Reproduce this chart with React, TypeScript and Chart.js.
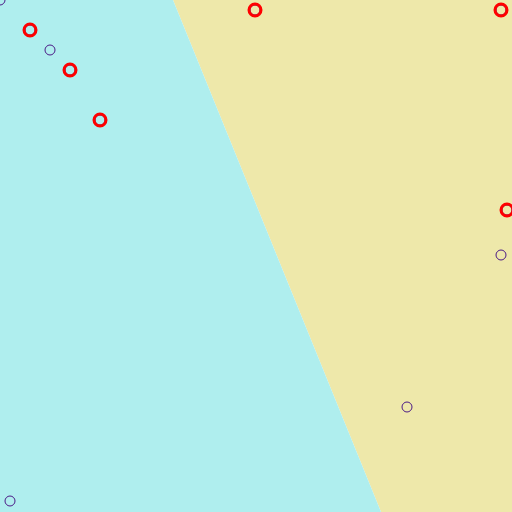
import React, { useEffect, useRef } from "react";
import { Chart, registerables } from "chart.js";

Chart.register(...registerables);

// Data points (x, y) in plot units (y grows downward)
const pointsX = [0, 30, 50, 70, 100, 255, 501, 507, 501, 407, 10];
const pointsY = [0, 30, 50, 70, 120, 10, 10, 210, 255, 407, 501];

// Support vectors
const svX = [30, 70, 100, 255, 501, 507];
const svY = [30, 70, 120, 10, 10, 210];

// Decision regions (polygons)
const leftRegionX = [0, 173, 381, 0];
const leftRegionY = [0, 0, 512, 512];
const rightRegionX = [173, 512, 512, 381];
const rightRegionY = [0, 0, 512, 512];

const zip = (xs: number[], ys: number[]) => xs.map((x, i) => ({ x, y: ys[i] }));

export default function App() {
  const ref = useRef<HTMLCanvasElement | null>(null);
  useEffect(() => {
    document.body.style.margin = "0";
    if (!ref.current) return;
    const chart = new Chart(ref.current, {
      type: "scatter",
      data: {
        datasets: [
          {
            data: zip(svX, svY),
            pointRadius: 6,
            pointBorderWidth: 3,
            pointBorderColor: "#ff0000",
            pointBackgroundColor: "rgba(0,0,0,0)",
            showLine: false,
            order: 0,
          },
          {
            data: zip(pointsX, pointsY),
            pointRadius: 5,
            pointBorderWidth: 1,
            pointBorderColor: "#4b1a86",
            pointBackgroundColor: "rgba(0,0,0,0)",
            showLine: false,
            order: 1,
          },
          {
            data: zip(leftRegionX, leftRegionY),
            showLine: true,
            fill: "shape",
            backgroundColor: "#afeeee",
            borderWidth: 0,
            borderColor: "rgba(0,0,0,0)",
            pointRadius: 0,
            order: 2,
          } as any,
          {
            data: zip(rightRegionX, rightRegionY),
            showLine: true,
            fill: "shape",
            backgroundColor: "#eee8aa",
            borderWidth: 0,
            borderColor: "rgba(0,0,0,0)",
            pointRadius: 0,
            order: 3,
          } as any,
        ],
      },
      options: {
        animation: false,
        responsive: false,
        layout: { padding: 0, autoPadding: false },
        plugins: { legend: { display: false }, tooltip: { enabled: false } },
        scales: {
          x: { type: "linear", min: 0, max: 512, display: false },
          y: { type: "linear", min: 0, max: 512, reverse: true, display: false },
        },
      },
    });
    return () => chart.destroy();
  }, []);
  return <canvas ref={ref} width={512} height={512} style={{ display: "block" }} />;
}
